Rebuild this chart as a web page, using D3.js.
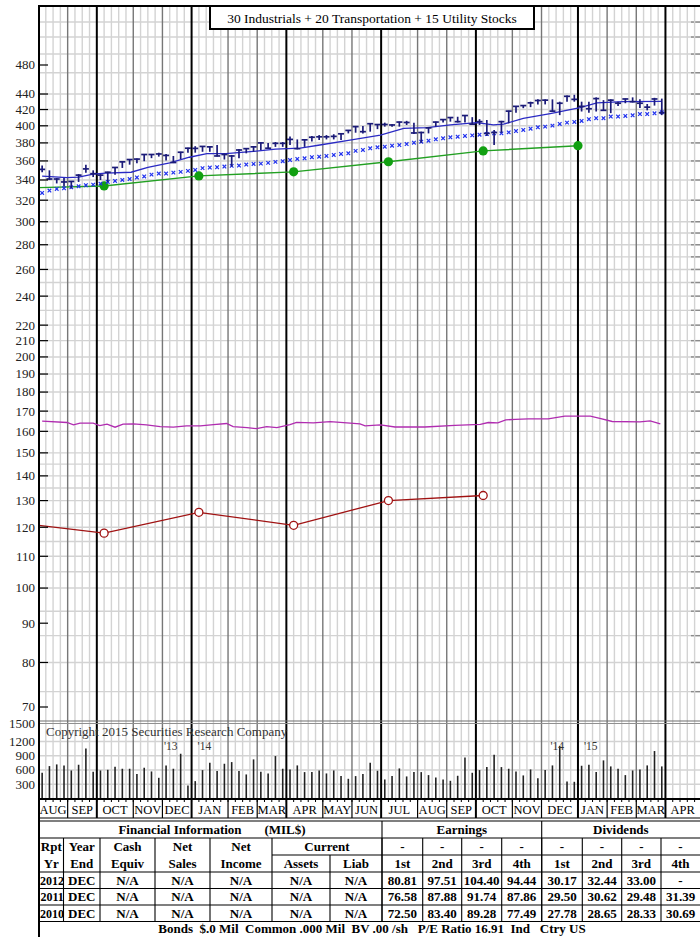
<!DOCTYPE html>
<html>
<head>
<meta charset="utf-8">
<script src="https://cdn.jsdelivr.net/npm/d3@7"></script>
<style>
  html, body { margin:0; padding:0; background:#fff; }
  svg { display:block; font-family:"Liberation Serif","Times New Roman",serif; }
</style>
</head>
<body>
<svg id="chart" width="700" height="937"></svg>
<script>
/* ===== SRC style weekly chart: 30 Ind + 20 Trans + 15 Util composite ===== */

// ---- data (weekly, Aug 2013 .. Mar 2015) ----
const weekHigh  = [355,350,342,342,339,346,356,350,346,348.5,353.5,359.5,362,362.5,367.3,367.6,369,367.6,365.4,370,
                   374.5,376.3,376.3,376,377.6,368,366.5,372.7,373.8,376.3,380.5,380,381,381,387.5,384,384,388,389,389,
                   390,391,395,399.8,399.8,403,402,403.8,402,405,406,403.8,393,398.2,405,408,410.5,411,413,410.5,
                   408,407,395,406,418.5,424.5,425.7,430,433,433,433,430,438,439,430,430,435.6,432,433,430,
                   434,435.6,433,427,435,434];
const weekLow   = [348,340,336.5,333.5,331.5,338,347.5,343,340,338,345.5,352.5,356,357.5,359.7,363,364.7,360.4,357.7,362,
                   369,369,370,370,364.7,361.5,354,363,368.3,370,372,373.8,375.5,375.5,377.6,372.7,375.5,381.5,383.3,384,
                   384,383.3,391,391.8,391,393,396,399,399,399,401,390.2,380.2,391,399,404,405,404,404,401,
                   401,388,377.6,391.6,403,416,421.7,423,426.5,426.5,417.5,413,430,430,417.5,416,417.5,418.4,415.5,424.5,
                   428,429,422,419,425,413];
const weekClose = [351,341,341,338,338.5,345,351.5,346.5,345,348,353,359,361.5,362,367,367,367.6,366,358.3,369.5,
                   374,373.8,376,375.5,365.4,367,365.4,372,373.5,375.5,380,374,379.5,379.5,384,373.5,383.5,386.5,387,387,
                   387.5,390.5,394.5,399,393,402.5,401.5,401.6,401,404.5,404,391.5,392,397.5,404.5,407.5,410,405,412.5,402,
                   405,391,392,405,418,424,425,428.5,431.5,432,418,428,437,433,424,421,434,419,432,428,
                   433.5,430,428,423,433.5,416];
const weekVolume = [542,683,718,697,591,711,1056,563,591,605,669,627,627,514,648,570,436,697,627,943,
                    275,366,598,753,577,732,767,577,507,824,563,528,894,627,612,697,556,556,591,528,
                    591,472,415,472,514,753,584,401,472,634,465,556,556,493,444,401,373,479,866,542,
                    598,662,922,662,627,570,486,612,429,598,697,1105,359,352,690,711,556,803,676,627,
                    493,591,612,697,1000,676];
// long moving average, one "x" per week
const longAvg = [327,329.4,331,331.6,332.6,333.6,334.7,335.3,336.3,338,339,340,341,342.6,343.6,345.5,346.6,346.6,347.6,348.4,
                 349.4,350.4,352.3,352.9,353.3,354,354.7,355,356.1,356.8,357.1,357.9,359,359.7,361,362.1,362.9,364,364.6,365.4,
                 366.5,367.6,368.3,371,372,373.9,375,375.7,376.8,377.6,378.7,380.2,381.4,382.5,384.1,385.3,386.4,387.1,388,388.7,
                 389.5,390.2,391,391,392.2,393.8,395,396.5,398.2,399,400.2,402.2,403.8,404.7,405.8,408,409.2,409.2,411.2,411.2,
                 412,412.8,414.4,414.4,415.3,416.5];
// short moving average (read at these week positions)
const maWeek  = [0,3.4,5,7,8.7,12.2,14.5,17.5,20.2,22.6,25.2,29,32,35.4,38.1,41.8,46.4,49.6,52.8,56,59.6,61.9,63.3,66,69.7,73.8,76.1,79.7,85];
const maValue = [344,342.5,343,346,347,348,353,358,364,368,368,370.5,373,374,377.6,382.5,389,397,397.7,401,403.8,401,402,409,415,422.5,428.5,430,430.5];
// relative strength line (magenta)
const rsWeek  = [0,3.4,4.3,5.2,7,7.9,8.9,10,11.1,12.5,14.3,16.2,18,19.8,21.7,23.5,25.3,26.2,28.1,29.4,30.8,32.2,34,34.9,37.2,
                 39.5,41.8,43.6,44.3,46.4,48.4,52.5,56.6,60.1,61.2,62.5,63.6,64.9,66.7,69.4,71.7,75.2,76.5,78.2,82,83.4,84.8];
const rsValue = [165,164.3,163.1,164,164,162.8,163.5,162,163.5,163.6,163.1,162.3,162,162.6,162.6,163.3,163.8,162.3,161.8,161.3,
                 162.3,161.8,163.3,164.4,164.1,164.7,164.1,163.6,162.6,163.1,162.1,162.1,162.9,163.4,164.3,164.1,165.6,165.8,166.1,166.1,
                 167.5,167.5,166.3,164.8,164.6,165.1,163.6];
// quarterly lines (first point is the left edge)
const qWeek      = [-0.5,8.5,21.5,34.5,47.5,60.5,73.5];
const greenValue = [332.3,334,344.2,348.4,359.1,371,376.8];
const earnWeek   = [-0.5,8.5,21.5,34.5,47.5,60.5];
const earnValue  = [120.7,117.9,125.5,120.7,130,132];

// axes
const priceTicks = [480,440,420,400,380,360,340,320,300,280,260,240,220,210,200,190,180,170,160,150,140,130,120,110,100,90,80,70];
const gridValues = [546,522,496,469,440,420,400,380,360,340,320,300,290,280,270,260,250,240,230,220,210,200,190,180,170,160,
                    150,145,140,135,130,125,120,115,110,105,100,93.3,86.7,80,73.3];
const volTicks   = [1500,1200,900,600,300];
const monthNames = ["AUG","SEP","OCT","NOV","DEC","JAN","FEB","MAR","APR","MAY","JUN","JUL","AUG","SEP","OCT","NOV","DEC","JAN","FEB","MAR","APR"];
const monthStart = [0,4,8,13,17,21,26,30,34,39,43,47,52,56,60,65,69,74,78,82,86];
const quarterMonths = ["OCT","JAN","APR","JUL"];
const yearMarks  = [{week:21, before:"'13", after:"'14"}, {week:74, before:"'14", after:"'15"}];

// table
const rptYears  = ["2012","2011","2010"];
const yearEnds  = ["DEC","DEC","DEC"];
const finVals   = [["N/A","N/A","N/A","N/A","N/A"],["N/A","N/A","N/A","N/A","N/A"],["N/A","N/A","N/A","N/A","N/A"]];
const earnings  = [["80.81","97.51","104.40","94.44"],["76.58","87.88","91.74","87.86"],["72.50","83.40","89.28","77.49"]];
const dividends = [["30.17","32.44","33.00","-"],["29.50","30.62","29.48","31.39"],["27.78","28.65","28.33","30.69"]];
const quarters  = ["1st","2nd","3rd","4th"];
const bondsLine = "Bonds  $.0 Mil  Common .000 Mil  BV .00 /sh   P/E Ratio 16.91  Ind   Ctry US";

/* ---------- layout ---------- */
const W = 700, H = 937;
const LEFT = 39, TOP = 6, PRICE_BOT = 721, VOL_BOT = 799;
const NWEEKS = 92;

const svg = d3.select("#chart");
const x  = d3.scaleLinear().domain([-0.5, NWEEKS - 0.5]).range([38.5, 38.5 + NWEEKS * 7.29]);
const y  = d3.scaleLog().domain([70, 480]).range([707, 65]);
const yv = d3.scaleLinear().domain([0, 1500]).range([798.5, 727.3]);

const defs = svg.append("defs");
defs.append("clipPath").attr("id","priceClip").append("rect")
  .attr("x",LEFT).attr("y",TOP).attr("width",W-LEFT).attr("height",PRICE_BOT-TOP);

/* ---------- grid ---------- */
const grid = svg.append("g");
const monthOfWeek = new Map(monthStart.map((w,i)=>[w, monthNames[i]]));

// horizontal price grid
grid.selectAll("line.h").data(gridValues).join("line")
  .attr("x1",LEFT).attr("x2",W).attr("y1",d=>y(d)).attr("y2",d=>y(d))
  .attr("stroke","#d3d3d3").attr("stroke-width",1.4);
grid.selectAll("line.rt").data(gridValues).join("line")
  .attr("x1",W-9).attr("x2",W).attr("y1",d=>y(d)).attr("y2",d=>y(d))
  .attr("stroke","#8a8a8a").attr("stroke-width",1.4);

// volume grid
grid.selectAll("line.vg").data(volTicks.slice(1)).join("line")
  .attr("x1",LEFT).attr("x2",W).attr("y1",d=>yv(d)).attr("y2",d=>yv(d))
  .attr("stroke","#d3d3d3").attr("stroke-width",1.4);

// vertical week / month / quarter lines
const weekLines = d3.range(1, NWEEKS).map(k => {
  const m = monthOfWeek.get(k);
  return { k, kind: m ? (quarterMonths.includes(m) ? "q" : "m") : "w" };
});
const vStyle = { w:["#d3d3d3",1.4], m:["#777",1.4], q:["#000",2] };
["w","m","q"].forEach(kind => {
  grid.selectAll(null).data(weekLines.filter(d=>d.kind===kind)).join("line")
    .attr("x1",d=>x(d.k-0.5)).attr("x2",d=>x(d.k-0.5))
    .attr("y1",TOP).attr("y2",VOL_BOT)
    .attr("stroke",vStyle[kind][0]).attr("stroke-width",vStyle[kind][1]);
});

// price / volume separator
svg.append("line").attr("x1",LEFT).attr("x2",W).attr("y1",PRICE_BOT).attr("y2",PRICE_BOT)
  .attr("stroke","#707070").attr("stroke-width",1.2);
svg.append("line").attr("x1",LEFT).attr("x2",W).attr("y1",PRICE_BOT+2.5).attr("y2",PRICE_BOT+2.5)
  .attr("stroke","#909090").attr("stroke-width",1.2);

/* ---------- volume ---------- */
svg.append("g").selectAll("line").data(weekVolume).join("line")
  .attr("x1",(d,i)=>x(i)).attr("x2",(d,i)=>x(i))
  .attr("y1",yv(0)).attr("y2",d=>yv(d))
  .attr("stroke","#222").attr("stroke-width",1.6);

svg.append("text").attr("x",46).attr("y",736).attr("font-size",13).attr("fill","#333")
  .text("Copyright 2015 Securities Research Company");

yearMarks.forEach(m => {
  const bx = x(m.week - 0.5);
  svg.append("text").attr("x",bx-14).attr("y",750).attr("text-anchor","end")
    .attr("font-size",11.5).attr("fill","#333").text(m.before);
  svg.append("text").attr("x",bx+6).attr("y",750)
    .attr("font-size",11.5).attr("fill","#333").text(m.after);
});

/* ---------- price panel lines ---------- */
const plot = svg.append("g").attr("clip-path","url(#priceClip)");
const knotLine = d3.line().x(d=>x(d[0])).y(d=>y(d[1]));

// relative strength (magenta)
plot.append("path").attr("d", knotLine(d3.zip(rsWeek, rsValue)))
  .attr("fill","none").attr("stroke","#b02cb0").attr("stroke-width",1.3);

// earnings (dark red, open circles)
plot.append("path").attr("d", knotLine(d3.zip(earnWeek, earnValue)))
  .attr("fill","none").attr("stroke","#a01212").attr("stroke-width",1.3);
plot.selectAll("circle.e").data(d3.zip(earnWeek, earnValue).slice(1)).join("circle")
  .attr("cx",d=>x(d[0])).attr("cy",d=>y(d[1])).attr("r",4)
  .attr("fill","#fff").attr("stroke","#a01212").attr("stroke-width",1.3);

// green quarterly line
plot.append("path").attr("d", knotLine(d3.zip(qWeek, greenValue)))
  .attr("fill","none").attr("stroke","#22a022").attr("stroke-width",1.4);
plot.selectAll("circle.g").data(d3.zip(qWeek, greenValue).slice(1)).join("circle")
  .attr("cx",d=>x(d[0])).attr("cy",d=>y(d[1])).attr("r",4.6)
  .attr("fill","#11a011");

// long average as x markers
const xm = plot.append("g").attr("stroke","#2233ee").attr("stroke-width",1.2);
longAvg.forEach((v,i) => {
  const cx = x(i), cy = y(v);
  xm.append("path").attr("d",`M${cx-1.8},${cy-1.8}L${cx+1.8},${cy+1.8}M${cx-1.8},${cy+1.8}L${cx+1.8},${cy-1.8}`);
});

// short moving average
plot.append("path").attr("d", knotLine(d3.zip(maWeek, maValue)))
  .attr("fill","none").attr("stroke","#2a2ac4").attr("stroke-width",1.3);

// weekly high-low-close bars
const bars = plot.append("g").attr("stroke","#1b1b78").attr("stroke-width",1.7);
weekHigh.forEach((h,i) => {
  const cx = x(i);
  bars.append("line").attr("x1",cx).attr("x2",cx).attr("y1",y(h)).attr("y2",y(weekLow[i]));
  bars.append("line").attr("x1",cx-3).attr("x2",cx+3).attr("y1",y(weekClose[i])).attr("y2",y(weekClose[i]));
});

/* ---------- frame, title, axis labels ---------- */
svg.append("line").attr("x1",LEFT).attr("x2",W).attr("y1",TOP).attr("y2",TOP)
  .attr("stroke","#000").attr("stroke-width",2);
svg.append("line").attr("x1",LEFT).attr("x2",LEFT).attr("y1",TOP-1).attr("y2",H)
  .attr("stroke","#000").attr("stroke-width",2);

svg.append("rect").attr("x",210).attr("y",TOP).attr("width",324).attr("height",23)
  .attr("fill","#fff").attr("stroke","#000").attr("stroke-width",2);
svg.append("text").attr("x",372).attr("y",23).attr("text-anchor","middle").attr("font-size",13.5)
  .text("30 Industrials + 20 Transportation + 15 Utility Stocks");

const yAxis = svg.append("g");
yAxis.selectAll("line").data(priceTicks).join("line")
  .attr("x1",LEFT).attr("x2",LEFT+9).attr("y1",d=>y(d)).attr("y2",d=>y(d))
  .attr("stroke","#000").attr("stroke-width",1.2);
yAxis.selectAll("text").data(priceTicks).join("text")
  .attr("x",35).attr("y",d=>y(d)).attr("dy","0.34em").attr("text-anchor","end")
  .attr("font-size",13).attr("fill","#222").text(d=>d);

svg.append("g").selectAll("text").data(volTicks).join("text")
  .attr("x",35).attr("y",d=>d===1500 ? yv(d)-4 : yv(d)).attr("dy","0.34em").attr("text-anchor","end")
  .attr("font-size",13).attr("fill","#222").text(d=>d);

/* ---------- month row ---------- */
const MROW_TOP = 799, MROW_BOT = 818;
svg.append("line").attr("x1",LEFT).attr("x2",W).attr("y1",MROW_TOP).attr("y2",MROW_TOP)
  .attr("stroke","#000").attr("stroke-width",2);
svg.append("g").selectAll("line").data(d3.range(1,NWEEKS)).join("line")
  .attr("x1",d=>x(d-0.5)).attr("x2",d=>x(d-0.5)).attr("y1",MROW_TOP).attr("y2",MROW_TOP+3)
  .attr("stroke","#000").attr("stroke-width",1);
monthStart.forEach((w,i) => {
  const x0 = x(w-0.5);
  const x1 = i < monthStart.length-1 ? x(monthStart[i+1]-0.5) : W;
  if (i > 0) svg.append("line").attr("x1",x0).attr("x2",x0).attr("y1",MROW_TOP).attr("y2",MROW_BOT)
    .attr("stroke","#000").attr("stroke-width",quarterMonths.includes(monthNames[i]) ? 2 : 1.2);
  svg.append("text").attr("x",(x0+Math.min(x1,W))/2).attr("y",814).attr("text-anchor","middle")
    .attr("font-size",12.5).text(monthNames[i]);
});

/* ---------- financial table ---------- */
const cols = [39,63.5,100,155,210,272,330,382,422.7,461.7,501.7,541.7,582.3,621.7,661,700];
const rows = [821,838,855,872,888.5,905,921.5,937];
const tbl = svg.append("g").attr("stroke","#000").attr("stroke-width",1.1);
function hl(y0, xa, xb){ tbl.append("line").attr("x1",xa).attr("x2",xb).attr("y1",y0).attr("y2",y0); }
function vl(x0, ya, yb){ tbl.append("line").attr("x1",x0).attr("x2",x0).attr("y1",ya).attr("y2",yb); }
hl(MROW_BOT, LEFT, W); hl(rows[0], LEFT, W); hl(rows[1], LEFT, W);
hl(rows[2], cols[5], W);
[3,4,5,6].forEach(r => hl(rows[r], LEFT, W));
vl(cols[7], rows[0], rows[6]); vl(cols[11], rows[0], rows[6]);
cols.slice(1,-1).forEach((c,i) => {
  if (c === 330) vl(c, rows[2], rows[6]);
  else vl(c, rows[1], rows[6]);
});

const txt = svg.append("g").attr("font-weight","bold").attr("font-size",13).attr("text-anchor","middle");
function cell(t, cx, by, size){ 
  const el = txt.append("text").attr("x",cx).attr("y",by).text(t);
  if (size) el.attr("font-size", size);
}
const mid = i => (cols[i]+cols[i+1])/2;

cell("Financial Information", 180, 834);
cell("(MIL$)", 285, 834);
cell("Earnings", (cols[7]+cols[11])/2, 834);
cell("Dividends", (cols[11]+cols[15])/2, 834);

const head1 = ["Rpt","Year","Cash","Net","Net"];
const head2 = ["Yr","End","Equiv","Sales","Income","Assets","Liab"];
head1.forEach((t,i) => cell(t, mid(i), 851));
cell("Current", (cols[5]+cols[7])/2, 851);
head2.forEach((t,i) => cell(t, mid(i), 868));
d3.range(7,15).forEach(i => {
  cell("-", mid(i), 851);
  cell(quarters[(i-7)%4], mid(i), 868);
});

const rowBase = [884.5, 901, 917.5];
rptYears.forEach((yr,r) => {
  cell(yr, mid(0)+0.8, rowBase[r], 12);
  cell(yearEnds[r], mid(1), rowBase[r]);
  finVals[r].forEach((v,j) => cell(v, mid(2+j), rowBase[r]));
  earnings[r].forEach((v,j) => cell(v, mid(7+j), rowBase[r]));
  dividends[r].forEach((v,j) => cell(v, mid(11+j), rowBase[r]));
});
txt.append("text").attr("x",372).attr("y",933).attr("xml:space","preserve").text(bondsLine);
</script>
</body>
</html>
